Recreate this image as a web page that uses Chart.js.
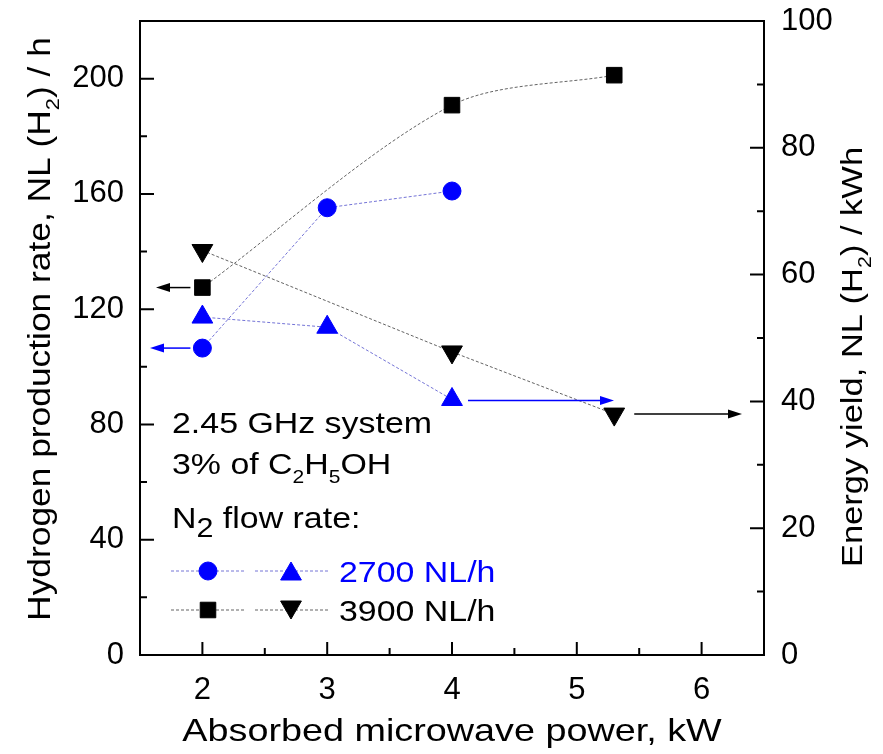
<!DOCTYPE html>
<html>
<head>
<meta charset="utf-8">
<script src="https://cdn.jsdelivr.net/npm/chart.js@4.4.1/dist/chart.umd.min.js"></script>
<style>
  html, body { margin: 0; padding: 0; background: #fff; }
</style>
</head>
<body>
<canvas id="chart" width="883" height="754"></canvas>
<script>
// 2700 NL/h N2 flow
const powerLow = [2, 3, 4];
const h2RateLow = [106.5, 155.2, 161];
const yieldLow = [53.3, 51.7, 40.3];

// 3900 NL/h N2 flow
const powerHigh = [2, 4, 5.3];
const h2RateHigh = [127.5, 190.8, 201.2];
const yieldHigh = [63.8, 47.8, 38.0];

const xTicks = [2, 3, 4, 5, 6];
const leftTicks = [0, 40, 80, 120, 160, 200];
const rightTicks = [0, 20, 40, 60, 80, 100];

const FONT = "'Liberation Sans', Arial, sans-serif";
const BLUE = '#0000ff';
const BLUE_LINE = 'rgba(70, 70, 200, 0.75)';
const GREY_LINE = 'rgba(60, 60, 60, 0.8)';

function pts(xs, ys) {
    return xs.map((x, i) => ({ x: x, y: ys[i] }));
}

// text with subscripts, parts = [[text, isSub, subScale], ...]
function partSize(p, size) {
    return p[1] ? size * (p[2] || 0.62) : size;
}

function drawRich(ctx, parts, x, y, size, color, opts) {
    opts = opts || {};
    const stretch = opts.stretch || 1.15;
    ctx.save();
    ctx.translate(x, y);
    ctx.scale(stretch, 1);
    ctx.fillStyle = color;
    ctx.textBaseline = 'alphabetic';
    ctx.textAlign = 'left';
    let w = 0;
    parts.forEach(p => {
        ctx.font = partSize(p, size) + 'px ' + FONT;
        w += ctx.measureText(p[0]).width;
    });
    let cx = opts.align === 'center' ? -w / 2 : 0;
    parts.forEach(p => {
        ctx.font = partSize(p, size) + 'px ' + FONT;
        ctx.fillText(p[0], cx, p[1] ? size * 0.3 : 0);
        cx += ctx.measureText(p[0]).width;
    });
    ctx.restore();
}

function drawArrow(ctx, x1, y, x2, color) {
    const dir = x2 > x1 ? 1 : -1;
    ctx.save();
    ctx.strokeStyle = color;
    ctx.fillStyle = color;
    ctx.lineWidth = 1.5;
    ctx.beginPath();
    ctx.moveTo(x1, y);
    ctx.lineTo(x2 - dir * 10, y);
    ctx.stroke();
    ctx.beginPath();
    ctx.moveTo(x2, y);
    ctx.lineTo(x2 - dir * 14, y - 4.5);
    ctx.lineTo(x2 - dir * 14, y + 4.5);
    ctx.closePath();
    ctx.fill();
    ctx.restore();
}

// keep the plot box where the layout puts it, labels may overhang
function noEdgePadding(s) {
    s.paddingTop = 0;
    s.paddingBottom = 0;
    s.paddingLeft = 0;
    s.paddingRight = 0;
}

const decorations = {
    id: 'decorations',
    afterDraw(chart) {
        const ctx = chart.ctx;
        const a = chart.chartArea;
        const xs = chart.scales.x, yl = chart.scales.y, yr = chart.scales.y2;

        // frame
        ctx.save();
        ctx.strokeStyle = '#000';
        ctx.lineWidth = 2;
        ctx.strokeRect(a.left, a.top, a.right - a.left, a.bottom - a.top);

        // inward ticks, major + minor
        ctx.beginPath();
        for (let v = 2; v <= 6; v += 0.5) {
            const px = xs.getPixelForValue(v);
            const len = Number.isInteger(v) ? 13 : 7;
            ctx.moveTo(px, a.bottom);
            ctx.lineTo(px, a.bottom - len);
        }
        for (let v = 20; v < 220; v += 20) {
            const py = yl.getPixelForValue(v);
            const len = v % 40 === 0 ? 14 : 7;
            ctx.moveTo(a.left, py);
            ctx.lineTo(a.left + len, py);
        }
        for (let v = 10; v < 100; v += 10) {
            const py = yr.getPixelForValue(v);
            const len = v % 20 === 0 ? 14 : 7;
            ctx.moveTo(a.right, py);
            ctx.lineTo(a.right - len, py);
        }
        ctx.stroke();
        ctx.restore();

        // arrows pointing each series to its axis
        const x2 = xs.getPixelForValue(2);
        drawArrow(ctx, x2 - 12, yl.getPixelForValue(h2RateHigh[0]), a.left + 16, '#000');
        drawArrow(ctx, x2 - 12, yl.getPixelForValue(h2RateLow[0]), a.left + 10, BLUE);
        const x4 = xs.getPixelForValue(4);
        drawArrow(ctx, x4 + 16, yr.getPixelForValue(yieldLow[2]) + 1, x4 + 162, BLUE);
        const x53 = xs.getPixelForValue(5.3);
        drawArrow(ctx, x53 + 20, yr.getPixelForValue(yieldHigh[2]), a.right - 22, '#000');

        // axis titles
        drawRich(ctx, [['Absorbed microwave power, kW']], (a.left + a.right) / 2, 741, 32, '#000', { align: 'center', stretch: 1.18 });

        ctx.save();
        ctx.translate(50, 329);
        ctx.rotate(-Math.PI / 2);
        drawRich(ctx, [['Hydrogen production rate, NL (H'], ['2', true], [') / h']], 0, 0, 31, '#000', { align: 'center', stretch: 1.14 });
        ctx.restore();

        ctx.save();
        ctx.translate(862, 357);
        ctx.rotate(-Math.PI / 2);
        drawRich(ctx, [['Energy yield, NL (H'], ['2', true], [') / kWh']], 0, 0, 30, '#000', { align: 'center', stretch: 1.15 });
        ctx.restore();

        // notes
        drawRich(ctx, [['2.45 GHz system']], 172, 433, 30, '#000', { stretch: 1.13 });
        drawRich(ctx, [['3% of C'], ['2', true], ['H'], ['5', true], ['OH']], 172, 474, 30, '#000', { stretch: 1.13 });
        drawRich(ctx, [['N'], ['2', true, 0.9], [' flow rate:']], 172, 528, 30, '#000', { stretch: 1.13 });

        // legend rows
        const rows = [
            { y: 571, line: BLUE_LINE, a: { style: 'circle', r: 9, rot: 0 }, b: { style: 'triangle', r: 12, rot: 0 }, color: BLUE, label: '2700 NL/h' },
            { y: 610, line: GREY_LINE, a: { style: 'rect', r: 11, rot: 0 }, b: { style: 'triangle', r: 12, rot: 180 }, color: '#000', label: '3900 NL/h' }
        ];
        rows.forEach(row => {
            ctx.save();
            ctx.strokeStyle = row.line;
            ctx.lineWidth = 1;
            ctx.setLineDash([3, 2]);
            ctx.beginPath();
            ctx.moveTo(171, row.y); ctx.lineTo(244, row.y);
            ctx.moveTo(255, row.y); ctx.lineTo(328, row.y);
            ctx.stroke();
            ctx.restore();
            ctx.save();
            ctx.fillStyle = row.color;
            ctx.strokeStyle = row.color;
            ctx.lineWidth = 1;
            Chart.helpers.drawPoint(ctx, { pointStyle: row.a.style, radius: row.a.r, rotation: row.a.rot, borderWidth: 1 }, 208, row.y);
            Chart.helpers.drawPoint(ctx, { pointStyle: row.b.style, radius: row.b.r, rotation: row.b.rot, borderWidth: 1 }, 291, row.y + (row.b.rot ? -3 : 3));
            ctx.restore();
            drawRich(ctx, [[row.label]], 339, row.y + 11, 30, row.color, { stretch: 1.13 });
        });
    }
};

const tickFont = { family: FONT, size: 31 };

new Chart(document.getElementById('chart'), {
    type: 'scatter',
    data: {
        datasets: [
            {
                label: '2700 NL/h rate',
                data: pts(powerLow, h2RateLow),
                yAxisID: 'y',
                showLine: true,
                borderColor: BLUE_LINE,
                borderWidth: 1,
                borderDash: [3, 2],
                pointStyle: 'circle',
                pointRadius: 9,
                pointBackgroundColor: BLUE,
                pointBorderColor: BLUE,
                pointBorderWidth: 1
            },
            {
                label: '2700 NL/h yield',
                data: pts(powerLow, yieldLow),
                yAxisID: 'y2',
                showLine: true,
                borderColor: BLUE_LINE,
                borderWidth: 1,
                borderDash: [3, 2],
                pointStyle: 'triangle',
                pointRadius: 12,
                pointBackgroundColor: BLUE,
                pointBorderColor: BLUE,
                pointBorderWidth: 1
            },
            {
                label: '3900 NL/h rate',
                data: pts(powerHigh, h2RateHigh),
                yAxisID: 'y',
                showLine: true,
                tension: 0.3,
                borderColor: GREY_LINE,
                borderWidth: 1,
                borderDash: [3, 2],
                pointStyle: 'rect',
                pointRadius: 11,
                pointBackgroundColor: '#000',
                pointBorderColor: '#000',
                pointBorderWidth: 1
            },
            {
                label: '3900 NL/h yield',
                data: pts(powerHigh, yieldHigh),
                yAxisID: 'y2',
                showLine: true,
                borderColor: GREY_LINE,
                borderWidth: 1,
                borderDash: [3, 2],
                pointStyle: 'triangle',
                rotation: 180,
                pointRadius: 12,
                pointBackgroundColor: '#000',
                pointBorderColor: '#000',
                pointBorderWidth: 1
            }
        ]
    },
    options: {
        responsive: false,
        animation: false,
        layout: { padding: { top: 21, left: 0, right: 0, bottom: 0 } },
        plugins: { legend: { display: false }, tooltip: { enabled: false } },
        scales: {
            x: {
                type: 'linear',
                min: 1.5,
                max: 6.5,
                afterBuildTicks: s => { s.ticks = xTicks.map(v => ({ value: v })); },
                afterFit: s => { s.height = 99; noEdgePadding(s); },
                grid: { display: false, drawTicks: false },
                border: { display: false },
                ticks: { font: tickFont, color: '#000', padding: 17, maxRotation: 0 }
            },
            y: {
                position: 'left',
                min: 0,
                max: 220,
                afterBuildTicks: s => { s.ticks = leftTicks.map(v => ({ value: v })); },
                afterFit: s => { s.width = 140; noEdgePadding(s); },
                grid: { display: false, drawTicks: false },
                border: { display: false },
                ticks: { font: tickFont, color: '#000', padding: 16 }
            },
            y2: {
                position: 'right',
                min: 0,
                max: 100,
                afterBuildTicks: s => { s.ticks = rightTicks.map(v => ({ value: v })); },
                afterFit: s => { s.width = 119; noEdgePadding(s); },
                grid: { display: false, drawTicks: false },
                border: { display: false },
                ticks: { font: tickFont, color: '#000', padding: 17 }
            }
        }
    },
    plugins: [decorations]
});
</script>
</body>
</html>
